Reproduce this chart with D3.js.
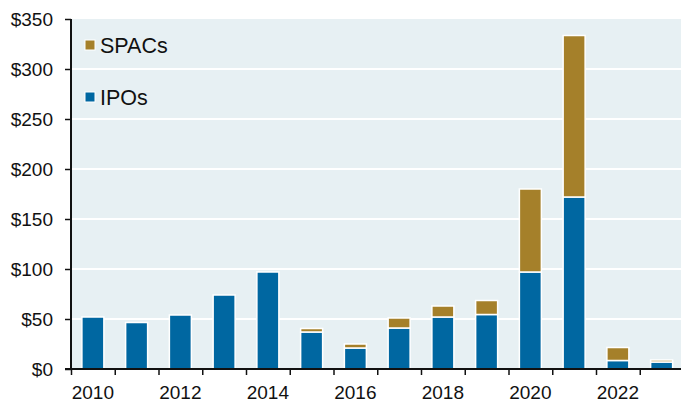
<!DOCTYPE html>
<html>
<head>
<meta charset="utf-8">
<script src="https://cdn.jsdelivr.net/npm/d3@7"></script>
<style>
  body { margin: 0; background: #fff; }
  svg { display: block; font-family: "Liberation Sans", Arial, sans-serif; }
</style>
</head>
<body>
<div id="chart"></div>
<script>
// years and values in $bn
var years = [2010, 2011, 2012, 2013, 2014, 2015, 2016, 2017, 2018, 2019, 2020, 2021, 2022, 2023];
var ipos  = [52, 46.5, 54, 74, 97, 37, 21, 41, 52, 54.5, 97, 172, 8.5, 7];
var spacs = [0, 0, 0, 0, 0, 3.5, 4, 10, 11, 14, 83, 161.5, 13, 2];
var yTicks = [0, 50, 100, 150, 200, 250, 300, 350];
var xLabels = [2010, 2012, 2014, 2016, 2018, 2020, 2022];

var kColor = { ipo: "#0067a1", spac: "#a5802a", bg: "#e7f0f3" };

var width = 681, height = 403;
var plotLeft = 71, plotTop = 19, plotBottom = 369;

var svg = d3.select("#chart").append("svg")
    .attr("width", width)
    .attr("height", height);

var x = d3.scaleLinear().domain([2010, 2024]).range([plotLeft, plotLeft + 14 * 43.75]);
var y = d3.scaleLinear().domain([0, 350]).range([plotBottom, plotTop]);

svg.append("rect")
    .attr("x", plotLeft).attr("y", plotTop)
    .attr("width", width - plotLeft).attr("height", plotBottom - plotTop)
    .attr("fill", kColor.bg);

// white gridlines
svg.selectAll(".grid")
    .data(yTicks.filter(function (d) { return d > 0 && d < 350; }))
    .enter().append("line")
    .attr("x1", plotLeft).attr("x2", width)
    .attr("y1", function (d) { return y(d); })
    .attr("y2", function (d) { return y(d); })
    .attr("stroke", "#fff")
    .attr("stroke-width", 2);

var rows = years.map(function (yr, i) { return { year: yr, ipo: ipos[i], spac: spacs[i] }; });
var barW = 22;

var bars = svg.selectAll(".bar")
    .data(rows)
    .enter().append("g")
    .attr("class", "bar");

bars.append("rect")
    .attr("x", function (d) { return x(d.year + 0.5) - barW / 2; })
    .attr("y", function (d) { return y(d.ipo); })
    .attr("width", barW)
    .attr("height", function (d) { return y(0) - y(d.ipo); })
    .attr("fill", kColor.ipo)
    .attr("stroke", "#fff")
    .attr("stroke-width", 1.5);

bars.filter(function (d) { return d.spac > 0; })
    .append("rect")
    .attr("x", function (d) { return x(d.year + 0.5) - barW / 2; })
    .attr("y", function (d) { return y(d.ipo + d.spac); })
    .attr("width", barW)
    .attr("height", function (d) { return y(d.ipo) - y(d.ipo + d.spac); })
    .attr("fill", kColor.spac)
    .attr("stroke", "#fff")
    .attr("stroke-width", 1.5);

// y axis
var yAxis = svg.append("g")
    .attr("transform", "translate(" + plotLeft + ",0)")
    .call(d3.axisLeft(y).tickValues(yTicks).tickSize(6).tickPadding(12)
        .tickFormat(function (d) { return "$" + d; }));
yAxis.selectAll("text").attr("font-size", 19).attr("fill", "#111").attr("font-family", "Liberation Sans, Arial, sans-serif");
yAxis.select(".domain").remove();
yAxis.selectAll("line").attr("stroke", "#111").attr("stroke-width", 1.5);
svg.append("line")
    .attr("x1", plotLeft).attr("x2", plotLeft)
    .attr("y1", plotTop).attr("y2", plotBottom)
    .attr("stroke", "#111").attr("stroke-width", 2);

// x axis: ticks at year boundaries, labels centred on every other year
var xAxis = svg.append("g")
    .attr("transform", "translate(0," + plotBottom + ")")
    .call(d3.axisBottom(x).tickValues(d3.range(2010, 2024)).tickSize(6).tickFormat(""));
xAxis.select(".domain").remove();
xAxis.selectAll("line").attr("stroke", "#111").attr("stroke-width", 1.5);
svg.append("line")
    .attr("x1", plotLeft - 6).attr("x2", width)
    .attr("y1", plotBottom).attr("y2", plotBottom)
    .attr("stroke", "#111").attr("stroke-width", 2);

svg.selectAll(".xlabel")
    .data(xLabels)
    .enter().append("text")
    .attr("x", function (d) { return x(d + 0.5); })
    .attr("y", 399)
    .attr("text-anchor", "middle")
    .attr("font-size", 19)
    .attr("fill", "#111")
    .text(function (d) { return d; });

// legend
var legend = [{ name: "SPACs", color: kColor.spac, y: 45 }, { name: "IPOs", color: kColor.ipo, y: 97 }];
var lg = svg.selectAll(".legend")
    .data(legend)
    .enter().append("g")
    .attr("class", "legend");
lg.append("rect")
    .attr("x", 85).attr("y", function (d) { return d.y - 5; })
    .attr("width", 10).attr("height", 10)
    .attr("fill", function (d) { return d.color; })
    .attr("stroke", "#fff").attr("stroke-width", 1);
lg.append("text")
    .attr("x", 100).attr("y", function (d) { return d.y + 7.5; })
    .attr("font-size", 21.5)
    .attr("fill", "#111")
    .text(function (d) { return d.name; });
</script>
</body>
</html>
